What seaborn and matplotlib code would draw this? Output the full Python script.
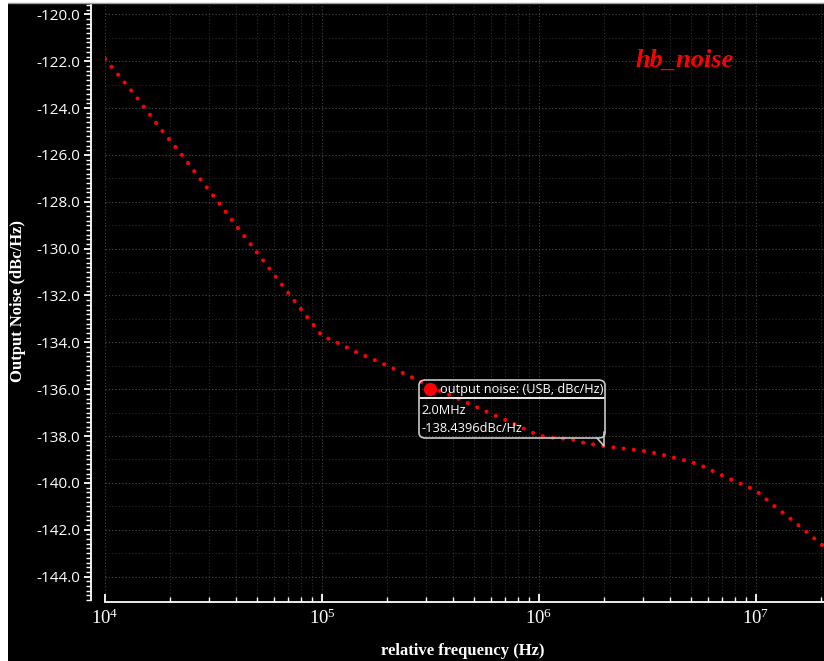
import numpy as np
import pandas as pd
import seaborn as sns
import matplotlib
matplotlib.use("Agg")
import matplotlib.pyplot as plt
from matplotlib.patches import Rectangle, FancyBboxPatch
from matplotlib.ticker import MultipleLocator, LogLocator, FormatStrFormatter, NullFormatter

# ---- data ----
freq_hz = [1.0e4, 1.365e4, 1.79e4, 2.22e4, 2.71e4, 3.33e4, 4.07e4, 5.0e4, 6.12e4, 7.52e4,
           1.0e5, 1.189e5, 1.445e5, 1.774e5, 2.168e5, 2.661e5, 3.258e5, 3.981e5, 4.898e5,
           5.943e5, 7.295e5, 8.913e5, 1.0e6, 1.143e6, 1.416e6, 1.589e6, 2.0e6, 2.377e6,
           2.958e6, 3.573e6, 4.436e6, 5.42e6, 6.637e6, 8.147e6, 1.0e7, 1.191e7, 1.419e7,
           1.687e7, 1.986e7, 2.056e7]
noise_dbc = [-121.9, -123.41, -124.85, -125.90, -126.96, -128.02, -129.08, -130.15, -131.20,
             -132.27, -133.72, -134.04, -134.43, -134.78, -135.15, -135.54, -135.96, -136.29,
             -136.67, -137.03, -137.39, -137.77, -137.98, -138.07, -138.14, -138.28, -138.44,
             -138.52, -138.62, -138.76, -138.98, -139.20, -139.59, -139.96, -140.33, -140.93,
             -141.48, -142.05, -142.61, -142.70]
series_name = "output noise: (USB, dBc/Hz)"
marker_freq_label = "2.0MHz"
marker_value_label = "-138.4396dBc/Hz"
title_text = "hb_noise"
x_label = "relative frequency (Hz)"
y_label = "Output Noise (dBc/Hz)"

df = pd.DataFrame({"freq": freq_hz, "noise": noise_dbc})

sns.set_theme(style="dark")
plt.rcParams["mathtext.fontset"] = "custom"
plt.rcParams["mathtext.rm"] = "Liberation Serif"
plt.rcParams["mathtext.it"] = "Liberation Serif:italic"

W, H = 824, 661
fig = plt.figure(figsize=(W / 100, H / 100), dpi=100, facecolor="white")
fig.patches.append(Rectangle((8 / W, 0), 1 - 8 / W, (H - 4) / H, transform=fig.transFigure,
                             facecolor="black", edgecolor="none", zorder=-10))
fig.add_artist(plt.Line2D([8 / W, 1], [(H - 3) / H, (H - 3) / H], transform=fig.transFigure,
                          color="#9a9a9a", lw=1.0))

ax = fig.add_axes([105 / W, (H - 600) / H, (W - 105) / W, 595 / H])
ax.set_facecolor("black")

sns.lineplot(data=df, x="freq", y="noise", ax=ax, color="#ff0000", lw=3.0,
             linestyle=(0, (0.01, 2.45)), sort=False, zorder=3)
for ln in ax.get_lines():
    ln.set_dash_capstyle("round")

ax.set_xscale("log")
ax.set_xlim(1e4, 2.056e7)
ax.set_ylim(-145.0, -119.6)

ax.xaxis.set_major_locator(LogLocator(base=10, numticks=10))
ax.xaxis.set_minor_locator(LogLocator(base=10, subs=np.arange(2, 10), numticks=20))
ax.xaxis.set_minor_formatter(NullFormatter())
ax.yaxis.set_major_locator(MultipleLocator(2.0))
ax.yaxis.set_minor_locator(MultipleLocator(0.2))
ax.yaxis.set_major_formatter(FormatStrFormatter("%.1f"))
ax.grid(which="major", axis="both", color="#444444", ls=(0, (1, 2)), lw=0.8)
ax.grid(which="minor", axis="x", color="#2e2e2e", ls=(0, (1, 2)), lw=0.8)
for yv in np.arange(-145.0, -119.0, 1.0):
    ax.axhline(yv, color="#2a2a2a", ls=(0, (1, 2)), lw=0.8, zorder=0)

for s in ["top", "right"]:
    ax.spines[s].set_visible(False)
ax.spines["left"].set_position(("outward", 10))
ax.spines["left"].set_color("white")
ax.spines["left"].set_linewidth(1.3)
ax.spines["bottom"].set_position(("outward", 1.5))
ax.spines["bottom"].set_color("white")
ax.spines["bottom"].set_linewidth(1.3)

ax.tick_params(axis="y", which="major", direction="out", length=5, width=1.3, color="white",
               labelcolor="white", labelsize=11, pad=3, left=True)
ax.tick_params(axis="y", which="minor", direction="out", length=3.5, width=1.0, color="white", left=True)
ax.tick_params(axis="x", which="major", direction="in", length=6, width=1.3, color="white",
               labelcolor="white", labelsize=13.5, pad=5, bottom=True)
ax.tick_params(axis="x", which="minor", direction="in", length=3.5, width=1.0, color="white", bottom=True)
for lab in ax.get_yticklabels():
    lab.set_fontfamily("Open Sans")
for lab in ax.get_xticklabels():
    lab.set_fontfamily("Liberation Serif")

ax.set_xlabel("")
ax.set_ylabel("")
fig.text(463 / W, 1 - 651 / H, x_label, color="white", fontsize=12, fontweight="bold",
         fontfamily="Liberation Serif", ha="center", va="center")
fig.text(18 / W, 1 - 301 / H, y_label, color="white", fontsize=12, fontweight="bold", rotation=90,
         fontfamily="Liberation Serif", ha="center", va="center")

fig.text(685 / W, 1 - 60 / H, title_text, color="#ff0000", fontsize=19, fontweight="bold",
         fontstyle="italic", fontfamily="Liberation Serif", ha="center", va="center")

def fx(px):
    return px / W

def fy(py):
    return 1 - py / H

box = FancyBboxPatch((fx(419), fy(438)), fx(605) - fx(419), fy(380) - fy(438),
                     boxstyle="round,pad=0,rounding_size=0.008", transform=fig.transFigure,
                     facecolor="none", edgecolor="#c8c8c8", lw=1.2, zorder=5)
fig.patches.append(box)
fig.add_artist(plt.Line2D([fx(420), fx(604)], [fy(398), fy(398)], transform=fig.transFigure,
                          color="white", lw=1.3))
fig.add_artist(plt.Line2D([fx(597), fx(604), fx(604)], [fy(438), fy(446), fy(432)],
                          transform=fig.transFigure, color="#c8c8c8", lw=1.2))
fig.add_artist(plt.Line2D([fx(430)], [fy(389)], transform=fig.transFigure, marker="o",
                          markersize=8.5, color="#ff0000", lw=0))
fig.text(fx(440), fy(389), series_name, color="white", fontsize=9.2, fontfamily="Open Sans",
         ha="left", va="center")
fig.text(fx(421), fy(410), marker_freq_label, color="white", fontsize=9.2, fontfamily="Open Sans",
         ha="left", va="center")
fig.text(fx(421), fy(428), marker_value_label, color="white", fontsize=9.2, fontfamily="Open Sans",
         ha="left", va="center")

fig.savefig("out.png", dpi=100, facecolor=fig.get_facecolor())
